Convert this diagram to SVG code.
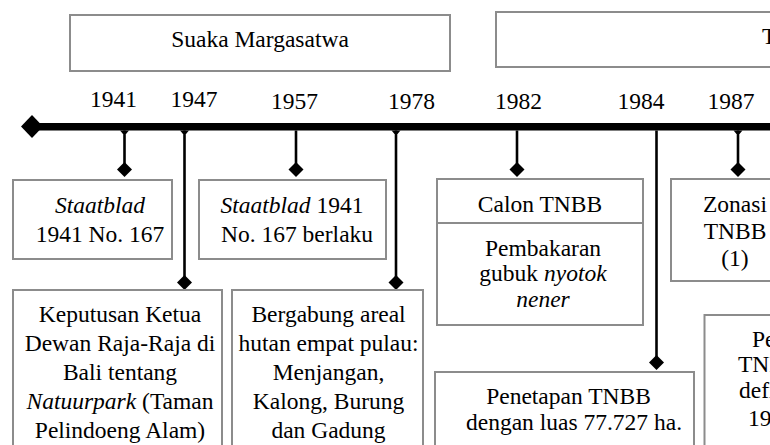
<svg xmlns="http://www.w3.org/2000/svg" width="770" height="445" viewBox="0 0 770 445" font-family="Liberation Serif, Times New Roman, serif">
<style>
text{font-size:23.5px;fill:#000}
.c{text-anchor:middle}
.it{font-style:italic}
.box{fill:#fff;stroke:#8c8c8c;stroke-width:2}
.conn{stroke:#000;stroke-width:2.6;fill:none}
</style>
<defs>
<marker id="dia" markerUnits="userSpaceOnUse" viewBox="-8 -8 16 16" markerWidth="16" markerHeight="16" refX="0" refY="0" orient="0"><path d="M0,-7.5 L7.5,0 L0,7.5 L-7.5,0Z" fill="#000"/></marker>
<marker id="cap" markerUnits="userSpaceOnUse" viewBox="-5 -1 10 6" markerWidth="10" markerHeight="6" refX="0" refY="0" orient="0"><path d="M-4.5,0 H4.5 L1.5,3.5 H-1.5Z" fill="#000"/></marker>
</defs>
<rect width="770" height="445" fill="#fff"/>

<g id="period-suaka">
<rect class="box" x="70" y="15" width="380" height="56"/>
<text class="c" x="260" y="47" font-family="Liberation Serif, serif">Suaka Margasatwa</text>
</g>
<g id="period-t">
<rect class="box" x="496" y="12" width="300" height="55"/>
<text x="762" y="43.5">T</text>
</g>

<g id="timeline">
<line x1="32" y1="126.8" x2="770" y2="126.8" stroke="#000" stroke-width="7.5"/>
<path d="M32,115 L43,126.5 L32,138 L21,126.5Z" fill="#000"/>
</g>

<g id="years">
<text class="c" x="113.5" y="107">1941</text>
<text class="c" x="194" y="107">1947</text>
<text class="c" x="294.5" y="109">1957</text>
<text class="c" x="411.5" y="109">1978</text>
<text class="c" x="518.5" y="109">1982</text>
<text class="c" x="641" y="109">1984</text>
<text class="c" x="731" y="109">1987</text>
</g>

<g id="connectors">
<path class="conn" d="M124.5,130.5 V169.5" marker-start="url(#cap)" marker-end="url(#dia)"/>
<path class="conn" d="M184.5,130.5 V282.5" marker-start="url(#cap)" marker-end="url(#dia)"/>
<path class="conn" d="M296,130.5 V169.5" marker-end="url(#dia)"/>
<path class="conn" d="M396,130.5 V282.5" marker-start="url(#cap)" marker-end="url(#dia)"/>
<path class="conn" d="M517,130.5 V169.5" marker-end="url(#dia)"/>
<path class="conn" d="M656.5,130.5 V362.5" marker-end="url(#dia)"/>
<path class="conn" d="M738,130.5 V169.5" marker-start="url(#cap)" marker-end="url(#dia)"/>
</g>

<g id="n1941">
<rect class="box" x="13" y="180" width="159" height="79"/>
<text class="c" x="100" y="213"><tspan class="it">Staatblad</tspan></text>
<text class="c" x="100" y="242">1941 No. 167</text>
</g>
<g id="n1947">
<rect class="box" x="13" y="290" width="209" height="170"/>
<text class="c" x="120" y="321.5">Keputusan Ketua</text>
<text class="c" x="120" y="351">Dewan Raja-Raja di</text>
<text class="c" x="120" y="380">Bali tentang</text>
<text class="c" x="120" y="409"><tspan class="it">Natuurpark</tspan> (Taman</text>
<text class="c" x="120" y="438">Pelindoeng Alam)</text>
</g>
<g id="n1957">
<rect class="box" x="199" y="180" width="187" height="79"/>
<text x="220.5" y="213"><tspan class="it">Staatblad</tspan> 1941</text>
<text x="221" y="242">No. 167 berlaku</text>
</g>
<g id="n1978">
<rect class="box" x="232" y="290" width="191" height="170"/>
<text class="c" x="328.5" y="321.5">Bergabung areal</text>
<text class="c" x="328.5" y="351">hutan empat pulau:</text>
<text class="c" x="328.5" y="380">Menjangan,</text>
<text class="c" x="328.5" y="409">Kalong, Burung</text>
<text class="c" x="328.5" y="438">dan Gadung</text>
</g>
<g id="n1982">
<rect class="box" x="437" y="179" width="206" height="146"/>
<line x1="437" y1="223" x2="643" y2="223" stroke="#8c8c8c" stroke-width="2"/>
<text class="c" x="540" y="212">Calon TNBB</text>
<text class="c" x="543" y="256">Pembakaran</text>
<text class="c" x="543" y="281">gubuk <tspan class="it">nyotok</tspan></text>
<text class="c" x="543" y="307"><tspan class="it">nener</tspan></text>
</g>
<g id="n1984">
<rect class="box" x="435" y="372" width="259" height="90"/>
<text class="c" x="568.5" y="404">Penetapan TNBB</text>
<text class="c" x="574" y="430">dengan luas 77.727 ha.</text>
</g>
<g id="n1987">
<rect class="box" x="671" y="179" width="130" height="102"/>
<text class="c" x="735" y="212">Zonasi</text>
<text class="c" x="735" y="238.5">TNBB</text>
<text class="c" x="735" y="266">(1)</text>
</g>
<g id="n-pe">
<rect class="box" x="704.5" y="315" width="90" height="145"/>
<text x="752" y="347">Pe</text>
<text x="738" y="372">TNB</text>
<text x="739" y="398">defin</text>
<text x="748" y="426">19.0</text>
</g>
</svg>
